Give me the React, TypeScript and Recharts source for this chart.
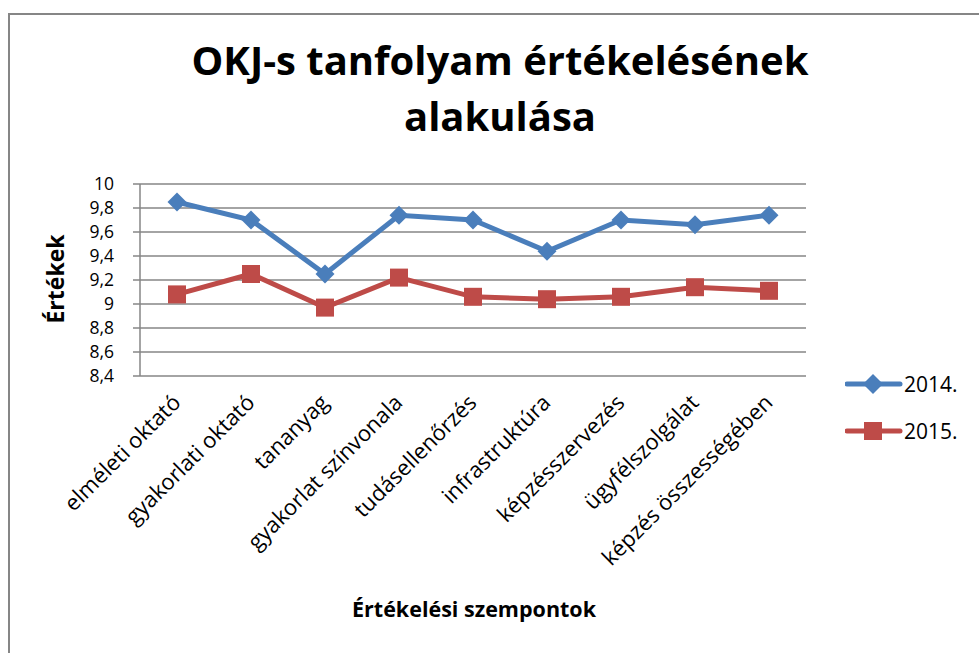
import { LineChart, Line, XAxis, YAxis, CartesianGrid } from 'recharts';

const categories = [
  'elméleti oktató',
  'gyakorlati oktató',
  'tananyag',
  'gyakorlat színvonala',
  'tudásellenőrzés',
  'infrastruktúra',
  'képzésszervezés',
  'ügyfélszolgálat',
  'képzés összességében',
];
const values2014 = [9.85, 9.7, 9.25, 9.74, 9.7, 9.44, 9.7, 9.66, 9.74];
const values2015 = [9.08, 9.25, 8.97, 9.22, 9.06, 9.04, 9.06, 9.14, 9.11];
const yTicks = [8.4, 8.6, 8.8, 9, 9.2, 9.4, 9.6, 9.8, 10];
const boundaryTicks = [0, 1, 2, 3, 4, 5, 6, 7, 8, 9];

const BLUE = '#4a7ebb';
const RED = '#be4b48';
const GRID = '#868686';
const FONT = '"Open Sans", Lato, sans-serif';

const data = categories.map((name, i) => ({
  name,
  pos: i + 0.5,
  y2014: values2014[i],
  y2015: values2015[i],
}));

const diamond = (cx: number, cy: number, r: number) =>
  `M${cx},${cy - r} L${cx + r},${cy} L${cx},${cy + r} L${cx - r},${cy} Z`;

const DiamondDot = (props: any) => {
  const { cx, cy, index } = props;
  return <path key={`d-${index}`} d={diamond(cx, cy, 9.5)} fill={BLUE} />;
};

const SquareDot = (props: any) => {
  const { cx, cy, index } = props;
  return <rect key={`s-${index}`} x={cx - 9} y={cy - 9} width={18} height={18} fill={RED} />;
};

const AngledTick = (props: any) => {
  const { x, y, payload } = props;
  return (
    <g transform={`translate(${x + 5},${y + 20}) rotate(-45)`}>
      <text x={0} y={0} textAnchor="end" fill="#000" fontSize={22} fontFamily={FONT}>
        {payload.value}
      </text>
    </g>
  );
};

const legendItems = [
  { label: '2014.', color: BLUE, shape: 'diamond' },
  { label: '2015.', color: RED, shape: 'square' },
];

const ChartLegend = () => (
  <div style={{ position: 'absolute', left: 845, top: 360 }}>
    {legendItems.map((it) => (
      <div key={it.label} style={{ display: 'flex', alignItems: 'center', height: 47 }}>
        <svg width={58} height={24}>
          <line x1={2} y1={12} x2={55} y2={12} stroke={it.color} strokeWidth={5} strokeLinecap="round" />
          {it.shape === 'diamond' ? (
            <path d={diamond(28, 12, 10)} fill={it.color} />
          ) : (
            <rect x={19} y={3} width={18} height={18} fill={it.color} />
          )}
        </svg>
        <span style={{ fontFamily: FONT, fontSize: 21, color: '#000', marginLeft: 1 }}>{it.label}</span>
      </div>
    ))}
  </div>
);

export default function App() {
  return (
    <div style={{ position: 'absolute', left: 0, top: 0, width: 979, height: 653, overflow: 'hidden', background: '#fff' }}>
      <div
        style={{
          position: 'absolute',
          left: 8,
          top: 13,
          width: 971,
          height: 640,
          borderTop: `2px solid ${GRID}`,
          borderLeft: `2px solid ${GRID}`,
          boxSizing: 'border-box',
        }}
      />
      <div style={{ position: 'absolute', left: 0, top: 0 }}>
        <LineChart width={979} height={653} data={data} margin={{ top: 184, right: 173, left: 0, bottom: 0 }}>
          <CartesianGrid vertical={false} stroke={GRID} strokeWidth={1.5} />
          <XAxis
            xAxisId="b"
            type="number"
            dataKey="pos"
            domain={[0, 9]}
            ticks={boundaryTicks}
            tick={false}
            height={0}
            axisLine={{ stroke: GRID, strokeWidth: 1.5 }}
            tickLine={{ stroke: GRID, strokeWidth: 1.5 }}
            tickSize={7}
          />
          <XAxis
            xAxisId="c"
            dataKey="name"
            type="category"
            scale="band"
            height={277}
            axisLine={false}
            tickLine={false}
            interval={0}
            tick={<AngledTick />}
          />
          <YAxis
            width={140}
            domain={[8.4, 10]}
            ticks={yTicks}
            interval={0}
            tickFormatter={(v: number) => String(v).replace('.', ',')}
            axisLine={{ stroke: GRID, strokeWidth: 1.5 }}
            tickLine={{ stroke: GRID, strokeWidth: 1.5 }}
            tickSize={7}
            tickMargin={19}
            tick={{ fill: '#000', fontSize: 17.5, fontFamily: FONT }}
          />
          <Line
            xAxisId="c"
            dataKey="y2014"
            name="2014."
            stroke={BLUE}
            strokeWidth={5}
            dot={<DiamondDot />}
            activeDot={false}
            isAnimationActive={false}
          />
          <Line
            xAxisId="c"
            dataKey="y2015"
            name="2015."
            stroke={RED}
            strokeWidth={5}
            dot={<SquareDot />}
            activeDot={false}
            isAnimationActive={false}
          />
        </LineChart>
      </div>
      <ChartLegend />
      <svg width={979} height={653} style={{ position: 'absolute', left: 0, top: 0, pointerEvents: 'none' }}>
        <text x={500} y={75} textAnchor="middle" fontFamily={FONT} fontWeight="bold" fontSize={40} fill="#000">
          OKJ-s tanfolyam értékelésének
        </text>
        <text x={500} y={131} textAnchor="middle" fontFamily={FONT} fontWeight="bold" fontSize={40} fill="#000">
          alakulása
        </text>
        <text x={474} y={617} textAnchor="middle" fontFamily={FONT} fontWeight="bold" fontSize={21.5} fill="#000">
          Értékelési szempontok
        </text>
        <text
          x={64}
          y={279}
          textAnchor="middle"
          fontFamily={FONT}
          fontWeight="bold"
          fontSize={23}
          fill="#000"
          transform="rotate(-90, 64, 279)"
        >
          Értékek
        </text>
      </svg>
    </div>
  );
}
